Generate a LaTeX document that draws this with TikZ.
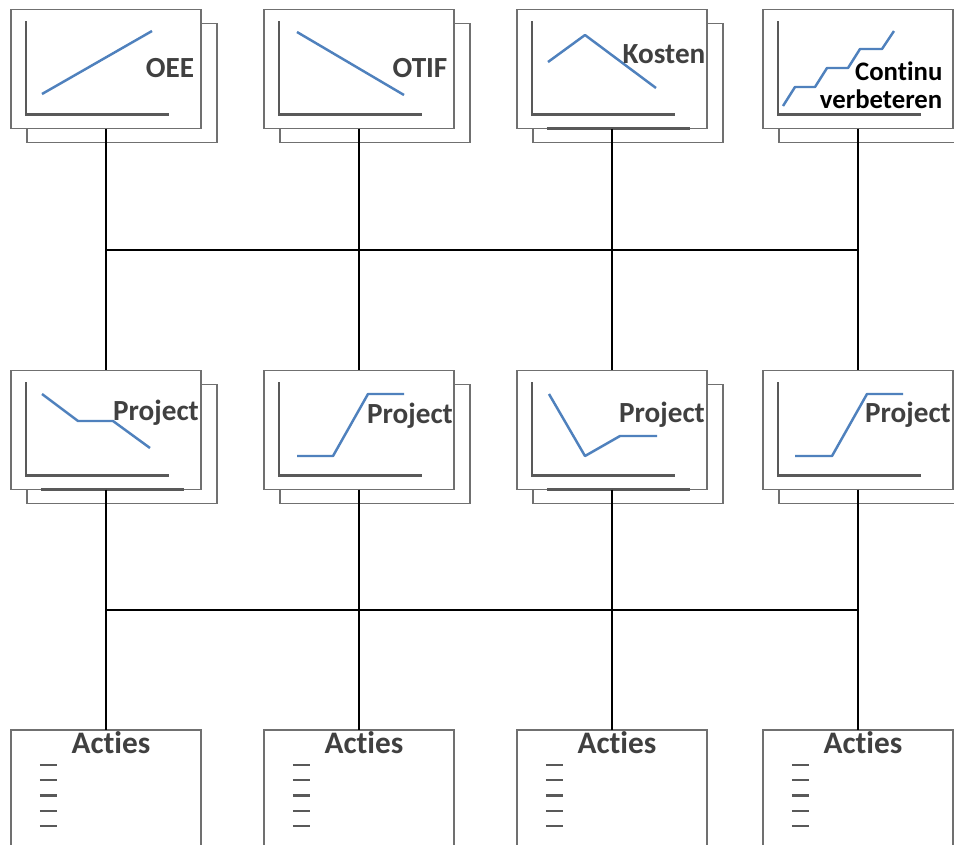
\documentclass[tikz,border=0pt]{standalone}
\usepackage{fontspec}
\setsansfont{Carlito}[Ligatures=NoCommon]
\definecolor{trendblue}{HTML}{4F81BD}
\definecolor{inkgray}{HTML}{404040}
\definecolor{axisgray}{HTML}{595959}
\definecolor{framegray}{HTML}{707070}

\begin{document}
\begin{tikzpicture}[x=0.01cm, y=-0.01cm,
	sheet/.style={draw=framegray, line width=0.5pt, fill=white,
		minimum width=1.9cm, minimum height=1.19cm, inner sep=0pt, outer sep=0pt},
	axis/.style={draw=axisgray, line width=0.65pt},
	chart/.style={sheet, path picture={
		\draw[axis] ([shift={(15,12)}]path picture bounding box.north west)
			|- ([shift={(-32,-14)}]path picture bounding box.south east);}},
	trend/.style={draw=trendblue, line width=0.7pt, line join=round},
	title/.style={font=\fontsize{8.3}{9}\sffamily\bfseries, text=inkgray,
		inner sep=0pt, anchor=base},
	wire/.style={draw=black, line width=0.75pt},
	todo/.style={draw=axisgray, line width=0.65pt}]
	\clip (0,0) rectangle (954,844);
	\fill[white] (0,0) rectangle (954,844);
	% top row: goals
	\node[sheet] (oeeb) at (122,83) {};
	\node[chart] (oee) at (106,69) {};
	\draw[trend] (42,94) -- (152,31);
	\node[title] (oeet) at (170,77) {OEE};
	\node[sheet] (otifb) at (375,83) {};
	\node[chart] (otif) at (359,69) {};
	\draw[trend] (297,32) -- (404,95);
	\node[title] (otift) at (420,77) {OTIF};
	\node[sheet] (kostenb) at (628,83) {};
	\node[chart] (kosten) at (612,69) {};
	\draw[axis] ([xshift=.3cm]kosten.south west) -- ([xshift=-.17cm]kosten.south east);
	\draw[trend] (548,62) -- (585,35) -- (656,88);
	\node[title] (kostent) at (664,63) {Kosten};
	\node[sheet] (contb) at (874,83) {};
	\node[chart] (cont) at (858,69) {};
	\draw[trend] (783,106) -- (795,87) -- (815,87) -- (827,68) -- (848,68)
		-- (860,49) -- (882,49) -- (894,31);
	\node[title, text=black, font=\fontsize{7.6}{9}\sffamily\bfseries,
		anchor=base east] (contt) at (943,80) {Continu};
	\node[title, text=black, font=\fontsize{7.6}{9}\sffamily\bfseries,
		anchor=base east] (verbt) at (943,108) {verbeteren};
	% middle row: projects
	\node[sheet] (proj1b) at (122,444) {};
	\node[chart] (proj1) at (106,430) {};
	\draw[axis] ([xshift=.3cm]proj1.south west) -- ([xshift=-.17cm]proj1.south east);
	\draw[trend] (42,394) -- (78,421) -- (113,421) -- (150,448);
	\node[title] (proj1t) at (156,420) {Project};
	\node[sheet] (proj2b) at (375,444) {};
	\node[chart] (proj2) at (359,430) {};
	\draw[trend] (297,456) -- (333,456) -- (368,394) -- (404,394);
	\node[title] (proj2t) at (410,423) {Project};
	\node[sheet] (proj3b) at (628,444) {};
	\node[chart] (proj3) at (612,430) {};
	\draw[axis] ([xshift=.3cm]proj3.south west) -- ([xshift=-.17cm]proj3.south east);
	\draw[trend] (549,394) -- (585,456) -- (620,436) -- (657,436);
	\node[title] (proj3t) at (662,422) {Project};
	\node[sheet] (proj4b) at (874,444) {};
	\node[chart] (proj4) at (858,430) {};
	\draw[trend] (795,456) -- (832,456) -- (867,394) -- (903,394);
	\node[title] (proj4t) at (908,422) {Project};
	% bottom row: actions
	\foreach \n/\x in {act1/106, act2/359, act3/612, act4/858} {
		\node[sheet, minimum height=1.3cm] (\n) at (\x,795) {};
		\node[title, font=\fontsize{8.9}{9}\sffamily\bfseries] (\n t)
			at ([shift={(5,24)}]\n.north) {Acties};
		\foreach \k in {0,...,4}
			\draw[todo] ([shift={(29,35+15.25*\k)}]\n.north west) -- ++(17,0);
	}
	% connectors
	\coordinate (busu) at (0,250);
	\coordinate (busd) at (0,610);
	\foreach \u/\m/\d in {oee/proj1/act1, otif/proj2/act2, kosten/proj3/act3, cont/proj4/act4}
		\draw[wire] (\u.south) -- (\m.north) (\m.south) -- (\d.north);
	\draw[wire] (oee.south |- busu) -- (cont.south |- busu);
	\draw[wire] (proj1.south |- busd) -- (proj4.south |- busd);
\end{tikzpicture}
\end{document}
